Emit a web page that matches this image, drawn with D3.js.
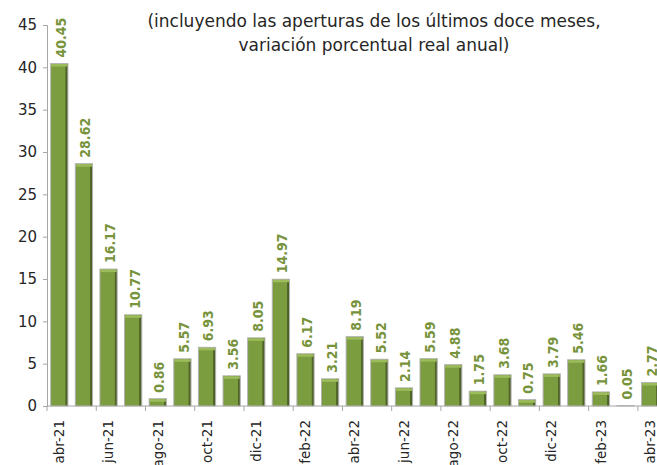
<!DOCTYPE html>
<html>
<head>
<meta charset="utf-8">
<script src="https://cdn.jsdelivr.net/npm/d3@7"></script>
<style>
  body { margin: 0; background: #fff; overflow: hidden; }
  svg { display: block; }
</style>
</head>
<body>
<svg class="chart"></svg>
<script>
const months = ['abr-21', 'may-21', 'jun-21', 'jul-21', 'ago-21', 'sep-21', 'oct-21', 'nov-21', 'dic-21',
  'ene-22', 'feb-22', 'mar-22', 'abr-22', 'may-22', 'jun-22', 'jul-22', 'ago-22', 'sep-22', 'oct-22',
  'nov-22', 'dic-22', 'ene-23', 'feb-23', 'mar-23', 'abr-23'];
const values = [40.45, 28.62, 16.17, 10.77, 0.86, 5.57, 6.93, 3.56, 8.05, 14.97, 6.17, 3.21, 8.19,
  5.52, 2.14, 5.59, 4.88, 1.75, 3.68, 0.75, 3.79, 5.46, 1.66, 0.05, 2.77];
const yTicks = [0, 5, 10, 15, 20, 25, 30, 35, 40, 45];
const titleLines = ['(incluyendo las aperturas de los últimos doce meses,', 'variación porcentual real anual)'];

const width = 657, height = 465;
const left = 47, zeroY = 406, topY = 25, bandW = 24.62;

const svg = d3.select('.chart').attr('width', width).attr('height', height);

const defs = svg.append('defs');
const grad = defs.append('linearGradient').attr('id', 'barGrad')
  .attr('x1', 0).attr('x2', 1).attr('y1', 0).attr('y2', 0);
grad.append('stop').attr('offset', '0%').attr('stop-color', '#74933b');
grad.append('stop').attr('offset', '10%').attr('stop-color', '#7c9c40');
grad.append('stop').attr('offset', '84%').attr('stop-color', '#7c9c40');
grad.append('stop').attr('offset', '87%').attr('stop-color', '#52672a');
grad.append('stop').attr('offset', '100%').attr('stop-color', '#4a5d24');

const x = d3.scaleBand()
  .domain(months)
  .range([left, left + bandW * months.length])
  .paddingInner(0.3)
  .paddingOuter(0.15);

const y = d3.scaleLinear().domain([0, 45]).range([zeroY, topY]);

// y axis
const yAxis = svg.append('g')
  .attr('transform', 'translate(' + left + ',0)')
  .call(d3.axisLeft(y).tickValues(yTicks).tickSize(4).tickPadding(6));
yAxis.select('.domain').attr('stroke', '#a6a6a6');
yAxis.selectAll('.tick line').attr('stroke', '#a6a6a6');
yAxis.selectAll('text')
  .style('font-family', '"DejaVu Sans", sans-serif')
  .style('font-size', '15px')
  .attr('fill', '#262626');

// x axis
const xAxis = svg.append('g').attr('transform', 'translate(0,' + zeroY + ')');
xAxis.append('line')
  .attr('x1', left).attr('x2', left + bandW * months.length)
  .attr('stroke', '#a6a6a6');
xAxis.selectAll('.xt')
  .data(months.filter((d, i) => i % 2 === 0))
  .enter().append('line')
  .attr('x1', d => x(d) - x.step() * x.paddingOuter())
  .attr('x2', d => x(d) - x.step() * x.paddingOuter())
  .attr('y1', 0).attr('y2', 5)
  .attr('stroke', '#a6a6a6');
xAxis.selectAll('.xl')
  .data(months.filter((d, i) => i % 2 === 0))
  .enter().append('text')
  .attr('transform', d => 'translate(' + (x(d) + x.bandwidth() / 2) + ',14) rotate(-90)')
  .attr('text-anchor', 'end')
  .attr('dy', '0.35em')
  .style('font-family', '"DejaVu Sans", sans-serif')
  .style('font-size', '13.5px')
  .attr('fill', '#262626')
  .text(d => d);

// bars
const bars = svg.append('g').selectAll('g')
  .data(values)
  .enter().append('g');

bars.append('rect')
  .attr('x', (d, i) => x(months[i]))
  .attr('y', d => y(d))
  .attr('width', x.bandwidth())
  .attr('height', d => zeroY - y(d))
  .attr('fill', 'url(#barGrad)')
  .attr('stroke', '#b4b4b4')
  .attr('stroke-width', 1);

bars.append('rect')
  .attr('x', (d, i) => x(months[i]) + 0.5)
  .attr('y', d => y(d) + 0.5)
  .attr('width', x.bandwidth() - 1)
  .attr('height', d => Math.min(2.5, Math.max(0, zeroY - y(d) - 1)))
  .attr('fill', '#9cbb5a');

// value labels
svg.append('g').selectAll('text')
  .data(values)
  .enter().append('text')
  .attr('transform', (d, i) => 'translate(' + (x(months[i]) + x.bandwidth() / 2 + 1.5) + ',' + (y(d) - 6) + ') rotate(-90)')
  .attr('dy', '0.35em')
  .style('font-family', '"DejaVu Sans Condensed", "DejaVu Sans", sans-serif')
  .style('font-weight', 'bold')
  .style('font-size', '14px')
  .attr('fill', '#77933c')
  .text(d => d.toFixed(2));

// title
svg.append('g').selectAll('text')
  .data(titleLines)
  .enter().append('text')
  .attr('x', 374)
  .attr('y', (d, i) => 27 + i * 24)
  .attr('text-anchor', 'middle')
  .style('font-family', '"DejaVu Sans", sans-serif')
  .style('font-size', '17px')
  .attr('fill', '#262626')
  .text(d => d);
</script>
</body>
</html>
